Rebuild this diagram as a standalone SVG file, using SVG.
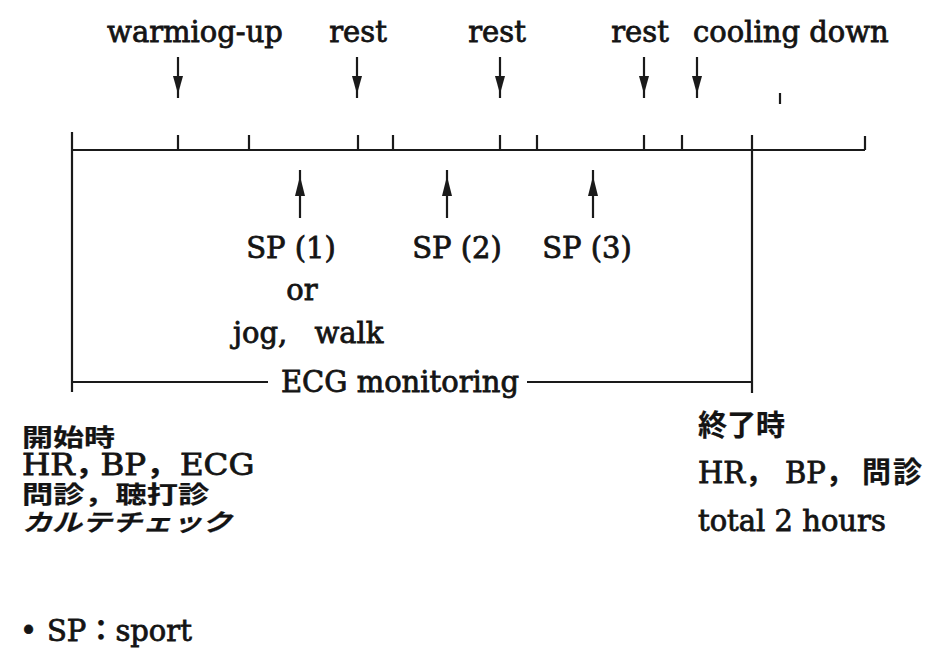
<svg xmlns="http://www.w3.org/2000/svg" width="940" height="654" viewBox="0 0 940 654">
<style>
.bg{fill:#fff}
.ln{stroke:#1a1a1a;stroke-width:2.2;fill:none}
.hd{fill:#1a1a1a;stroke:none}
.t{font-family:"DejaVu Serif","Noto Sans CJK JP",serif;font-size:29px;fill:#141414;stroke:#141414;stroke-width:0.8}
.j{font-family:"Noto Sans CJK JP",sans-serif;font-weight:bold;stroke-width:0.2}
.s{font-size:24px}
.it{font-style:italic}
</style>
<defs>
<g id="arrDown"><line class="ln" x1="0" y1="57" x2="0" y2="98" stroke-width="2.6"/><polygon class="hd" points="-5,76 5,76 0,94"/></g>
<g id="arrUp"><line class="ln" x1="0" y1="170" x2="0" y2="218" stroke-width="2.6"/><polygon class="hd" points="-5,196 5,196 0,176"/></g>
</defs>
<rect class="bg" x="0" y="0" width="940" height="654"/>
<g id="timeline">
<line class="ln" x1="72" y1="150" x2="865" y2="150"/>
<line class="ln" x1="72" y1="132" x2="72" y2="392"/>
<line class="ln" x1="752" y1="135" x2="752" y2="393"/>
<path class="ln" d="M178,135V150 M249,135V150 M358,135V150 M393,135V150 M500,135V150 M537,135V150 M644,135V150 M682,135V150 M865,136V150"/>
<line class="ln" x1="780" y1="93" x2="780" y2="104"/>
</g>
<g id="connectors">
<use href="#arrDown" x="178"/>
<use href="#arrDown" x="357"/>
<use href="#arrDown" x="500"/>
<use href="#arrDown" x="644"/>
<use href="#arrDown" x="697"/>
<use href="#arrUp" x="300"/>
<use href="#arrUp" x="447"/>
<use href="#arrUp" x="593"/>
<line class="ln" x1="72" y1="382" x2="268" y2="382"/>
<line class="ln" x1="527" y1="382" x2="752" y2="382"/>
</g>
<g id="label-warmup"><text class="t" x="195" y="42" text-anchor="middle">warmiog-up</text></g>
<g id="label-rest1"><text class="t" x="358" y="42" text-anchor="middle">rest</text></g>
<g id="label-rest2"><text class="t" x="497" y="42" text-anchor="middle">rest</text></g>
<g id="label-rest3"><text class="t" x="640" y="42" text-anchor="middle">rest</text></g>
<g id="label-cooldown"><text class="t" x="693" y="42">cooling down</text></g>
<g id="label-sp1">
<text class="t" x="291" y="258" text-anchor="middle">SP (1)</text>
<text class="t" x="302" y="300" text-anchor="middle">or</text>
<text class="t" x="233" y="343" word-spacing="18">jog, walk</text>
</g>
<g id="label-sp2"><text class="t" x="457" y="258" text-anchor="middle">SP (2)</text></g>
<g id="label-sp3"><text class="t" x="587" y="258" text-anchor="middle">SP (3)</text></g>
<g id="label-ecg"><text class="t" x="400" y="392" text-anchor="middle">ECG monitoring</text></g>
<g id="start-block">
<text class="t j s" transform="translate(22,446) scale(1.29,1)">開始時</text>
<text class="t" font-size="24" transform="translate(22,475) scale(1.12,1)"><tspan x="0">HR<tspan class="j">，</tspan></tspan><tspan x="70">BP<tspan class="j">，</tspan></tspan><tspan x="141">ECG</tspan></text>
<text class="t j s" transform="translate(22,503) scale(1.3,1)">問診，聴打診</text>
<text class="t j s it" transform="translate(22,531) scale(1.25,1)">カルテチェック</text>
</g>
<g id="end-block">
<text class="t j" x="698" y="436" font-size="30">終了時</text>
<text class="t" y="483"><tspan x="698">HR<tspan class="j">，</tspan></tspan><tspan x="785">BP<tspan class="j">，</tspan></tspan><tspan class="j" x="862" letter-spacing="2">問診</tspan></text>
<text class="t" x="698" y="531">total 2 hours</text>
</g>
<g id="legend">
<text class="t" x="20" y="641">•</text>
<text class="t" x="47" y="641">SP<tspan class="j">：</tspan>sport</text>
</g>
</svg>
